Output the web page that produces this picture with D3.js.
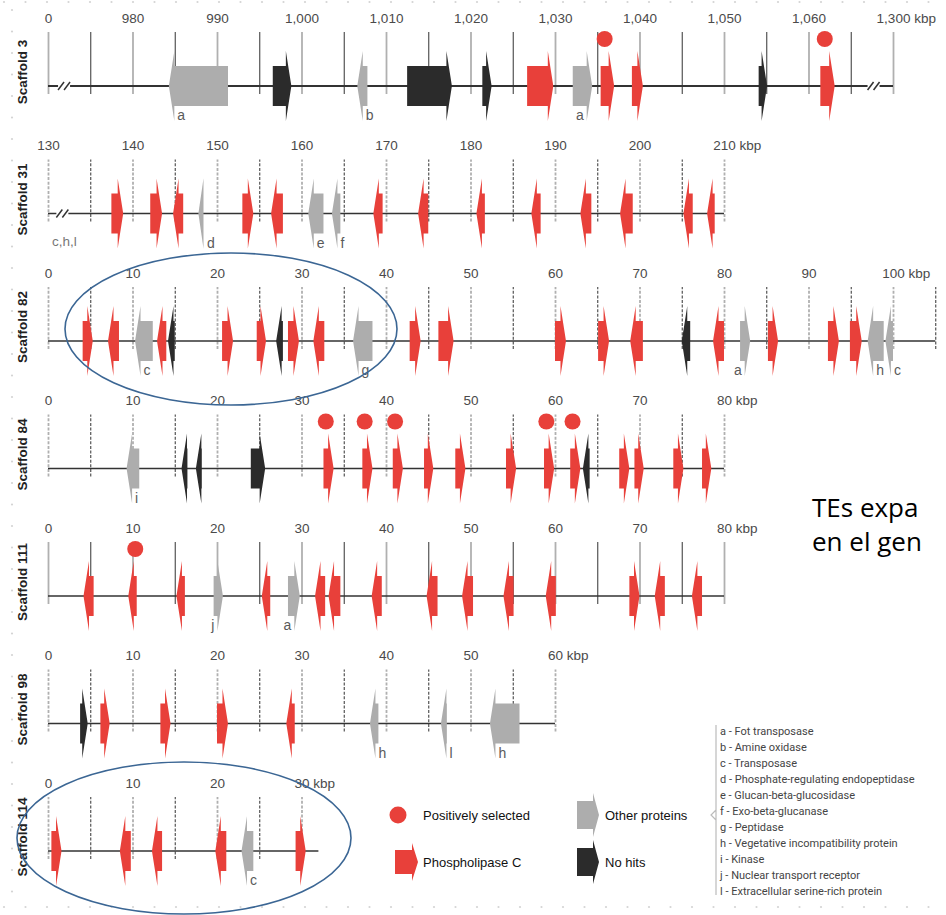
<!DOCTYPE html>
<html>
<head>
<meta charset="utf-8">
<script src="https://cdn.jsdelivr.net/npm/d3@7"></script>
<style>
  body { margin: 0; background: #fff; }
  svg { display: block; font-family: "Liberation Sans", Arial, sans-serif; }
</style>
</head>
<body>
<svg id="chart" width="946" height="915"></svg>
<script>
// scaffolds, top to bottom
const scaffoldNames = ['Scaffold 3', 'Scaffold 31', 'Scaffold 82', 'Scaffold 84', 'Scaffold 111', 'Scaffold 98', 'Scaffold 114'];
const scaffoldStart = [970, 130, 0, 0, 0, 0, 0];
const scaffoldEnd = [1070, 210, 105, 80, 80, 60, 32];
const kbpTick = [1070, 210, 100, 80, 80, 60, 30];       // tick that carries the "kbp" unit
const dashedTicks = [false, true, true, true, false, true, true];
const breakMarks = [[971.9, 1067.7], [131.7], [], [], [], [], []];
const leftNotes = [null, 'c,h,l', null, null, null, null, null];
// scaffold 3 axis is compressed: first and last tick stand for 0 and 1,300 kbp
const scaffold3Labels = ['0', '980', '990', '1,000', '1,010', '1,020', '1,030', '1,040', '1,050', '1,060', '1,300'];

// genes: [start kbp, end kbp, strand, type, letter, positively selected]
// type: plc = phospholipase C, other = other proteins, none = no hits
const genesS3 = [
  [984.3, 991.3, -1, 'other', 'a'],
  [996.6, 998.8, 1, 'none'],
  [1006.6, 1007.8, -1, 'other', 'b'],
  [1012.5, 1017.8, 1, 'none'],
  [1021.4, 1022.5, 1, 'none'],
  [1026.7, 1029.8, 1, 'plc'],
  [1032.1, 1034.4, 1, 'other', 'a'],
  [1035.4, 1037.0, 1, 'plc', '', true],
  [1039.1, 1040.4, 1, 'plc'],
  [1054.1, 1055.1, 1, 'none'],
  [1061.4, 1063.1, 1, 'plc', '', true]
];
const genesS31 = [
  [137.5, 138.9, 1, 'plc'],
  [142.1, 143.5, 1, 'plc'],
  [144.8, 146.0, -1, 'plc'],
  [147.8, 148.4, -1, 'other', 'd'],
  [153.0, 154.3, 1, 'plc'],
  [156.4, 157.8, -1, 'plc'],
  [160.8, 162.6, -1, 'other', 'e'],
  [163.6, 164.6, -1, 'other', 'f'],
  [168.5, 169.6, -1, 'plc'],
  [173.8, 175.0, -1, 'plc'],
  [180.7, 181.7, -1, 'plc'],
  [187.2, 188.3, -1, 'plc'],
  [193.0, 194.3, -1, 'plc'],
  [197.7, 199.2, -1, 'plc'],
  [205.2, 206.3, -1, 'plc'],
  [208.0, 208.9, -1, 'plc']
];
const genesS82 = [
  [4.1, 5.3, 1, 'plc'],
  [7.1, 8.4, -1, 'plc'],
  [10.3, 12.4, -1, 'other', 'c'],
  [12.9, 14.0, -1, 'plc'],
  [14.2, 15.0, -1, 'none'],
  [20.6, 21.9, 1, 'plc'],
  [24.7, 25.8, 1, 'plc'],
  [27.0, 27.8, -1, 'none'],
  [28.4, 29.7, 1, 'plc'],
  [31.4, 32.7, -1, 'plc'],
  [36.1, 38.4, -1, 'other', 'g'],
  [42.8, 44.1, 1, 'plc'],
  [46.2, 48.0, 1, 'plc'],
  [60.0, 61.3, 1, 'plc'],
  [65.1, 66.4, 1, 'plc'],
  [68.9, 70.4, -1, 'plc'],
  [75.0, 76.0, -1, 'none'],
  [78.7, 80.0, -1, 'plc'],
  [81.9, 83.1, 1, 'other', 'a'],
  [85.2, 86.4, 1, 'plc'],
  [92.3, 93.6, 1, 'plc'],
  [94.9, 96.3, 1, 'plc'],
  [97.0, 98.9, -1, 'other', 'h'],
  [99.1, 100.0, -1, 'other', 'c']
];
const genesS84 = [
  [9.3, 10.8, -1, 'other', 'i'],
  [15.8, 16.5, -1, 'none'],
  [17.5, 18.2, -1, 'none'],
  [24.0, 25.7, 1, 'none'],
  [32.6, 33.8, 1, 'plc', '', true],
  [37.2, 38.4, 1, 'plc', '', true],
  [40.8, 42.0, 1, 'plc', '', true],
  [44.5, 45.6, 1, 'plc'],
  [48.2, 49.4, 1, 'plc'],
  [54.2, 55.4, 1, 'plc'],
  [58.7, 59.9, 1, 'plc', '', true],
  [61.8, 63.0, 1, 'plc', '', true],
  [63.3, 64.1, -1, 'none'],
  [67.6, 68.8, 1, 'plc'],
  [69.4, 70.5, 1, 'plc'],
  [74.0, 75.2, 1, 'plc'],
  [77.4, 78.5, 1, 'plc']
];
const genesS111 = [
  [4.2, 5.4, -1, 'plc'],
  [9.5, 10.5, -1, 'plc', '', true],
  [15.2, 16.2, -1, 'plc'],
  [19.6, 20.7, 1, 'other', 'j'],
  [25.3, 26.3, -1, 'plc'],
  [28.4, 29.8, 1, 'other', 'a'],
  [31.6, 32.8, -1, 'plc'],
  [33.2, 34.6, -1, 'plc'],
  [38.3, 39.5, -1, 'plc'],
  [44.8, 46.1, -1, 'plc'],
  [49.0, 50.3, -1, 'plc'],
  [53.9, 55.1, -1, 'plc'],
  [58.9, 60.1, -1, 'plc'],
  [68.8, 70.0, 1, 'plc'],
  [71.8, 73.0, -1, 'plc'],
  [76.2, 77.4, -1, 'plc']
];
const genesS98 = [
  [3.8, 4.7, 1, 'none'],
  [6.2, 7.3, 1, 'plc'],
  [13.3, 14.5, 1, 'plc'],
  [20.0, 21.3, 1, 'plc'],
  [28.2, 29.2, -1, 'plc'],
  [38.1, 39.1, -1, 'other', 'h'],
  [46.5, 47.2, -1, 'other', 'l'],
  [52.3, 55.8, -1, 'other', 'h']
];
const genesS114 = [
  [0.4, 1.6, 1, 'plc'],
  [8.5, 9.8, -1, 'plc'],
  [12.3, 13.5, -1, 'plc'],
  [19.8, 21.1, -1, 'plc'],
  [22.9, 24.3, -1, 'other', 'c'],
  [29.3, 30.5, 1, 'plc']
];
const genesByScaffold = [genesS3, genesS31, genesS82, genesS84, genesS111, genesS98, genesS114];

const proteinKey = [
  'a - Fot transposase',
  'b - Amine oxidase',
  'c - Transposase',
  'd - Phosphate-regulating endopeptidase',
  'e - Glucan-beta-glucosidase',
  'f - Exo-beta-glucanase',
  'g - Peptidase',
  'h - Vegetative incompatibility protein',
  'i - Kinase',
  'j - Nuclear transport receptor',
  'l - Extracellular serine-rich protein'
];

const colors = { plc: '#e8403a', other: '#adadad', none: '#2b2b2b' };

const svg = d3.select('#chart');

// slide dots in the margins
const dots = svg.append('g').attr('fill', '#d4d4d4');
d3.range(4, 946, 21.5).forEach(x => {
  dots.append('circle').attr('cx', x).attr('cy', 2).attr('r', 1.1);
  dots.append('circle').attr('cx', x).attr('cy', 907).attr('r', 1.1);
});
d3.range(10, 900, 21.5).forEach(y => {
  dots.append('circle').attr('cx', 12).attr('cy', y).attr('r', 1.1);
});

// vertical placement of the scaffolds
const rowY = d3.scaleLinear().domain([0, scaffoldNames.length - 1]).range([86, 851]);

// arrow shaped gene: narrow shaft and tall thin head
function genePath(x0, x1, dir, h, H, hl) {
  const head = Math.min(hl, x1 - x0);
  const b = dir > 0 ? x1 - head : x0 + head;
  const tail = dir > 0 ? x0 : x1;
  const tip = dir > 0 ? x1 : x0;
  return `M${tail},${-h}L${b},${-h}L${b},${-H}L${tip},0L${b},${H}L${b},${h}L${tail},${h}Z`;
}

scaffoldNames.forEach((name, i) => {
  const y0 = rowY(i);
  const start = scaffoldStart[i];
  const x = d3.scaleLinear().domain([start, start + 100]).range([48, 893]);
  const g = svg.append('g').attr('transform', `translate(0,${y0})`);

  // rotated scaffold name
  g.append('text')
    .attr('transform', `translate(27,-14) rotate(-90)`)
    .attr('text-anchor', 'middle')
    .attr('font-size', 13.5)
    .attr('font-weight', 'bold')
    .attr('fill', '#222')
    .text(name);

  // ticks every 5 kbp, labels every 10 kbp
  const tickVals = d3.range(start, scaffoldEnd[i] + 0.01, 5);
  const axis = d3.axisTop(x)
    .tickValues(tickVals)
    .tickSize(62)
    .tickPadding(9.5)
    .tickFormat(v => {
      if ((v - start) % 10 !== 0 || v > kbpTick[i]) return '';
      if (i === 0) return scaffold3Labels[(v - start) / 10];
      return d3.format(',')(v);
    });
  const ax = g.append('g').attr('transform', 'translate(0,8)').call(axis);
  ax.select('.domain').remove();
  ax.selectAll('.tick line')
    .attr('stroke', v => (v - start) % 10 === 0 ? '#b0b0b0' : '#444')
    .attr('stroke-width', v => (v - start) % 10 === 0 ? 1.8 : 1.1)
    .attr('stroke-dasharray', dashedTicks[i] ? '3,1.6' : null);
  ax.selectAll('.tick text')
    .attr('font-size', 13.5)
    .attr('font-family', '"Liberation Sans", Arial, sans-serif')
    .attr('fill', '#4a4a4a')
    .each(function(v) {
      if (v !== kbpTick[i]) return;
      const t = d3.select(this);
      const w = this.getComputedTextLength();
      t.attr('text-anchor', 'start').attr('x', -w / 2).text(t.text() + ' kbp');
    });

  // backbone
  g.append('line')
    .attr('x1', x(start)).attr('x2', x(scaffoldEnd[i]))
    .attr('stroke', '#333').attr('stroke-width', i === 0 ? 1.8 : 1.4);

  // break marks
  breakMarks[i].forEach(b => {
    const bx = x(b);
    g.append('rect').attr('x', bx - 6).attr('y', -3).attr('width', 12).attr('height', 6).attr('fill', '#fff');
    [-3, 3].forEach(o => {
      g.append('line')
        .attr('x1', bx + o - 3).attr('y1', 4)
        .attr('x2', bx + o + 3).attr('y2', -4)
        .attr('stroke', '#333').attr('stroke-width', 1.5);
    });
  });

  if (leftNotes[i]) {
    g.append('text').attr('x', 52).attr('y', 32)
      .attr('font-size', 13.5).attr('fill', '#777').text(leftNotes[i]);
  }

  // genes
  const genes = genesByScaffold[i];
  g.selectAll('path.gene')
    .data(genes)
    .enter()
    .append('path')
    .attr('class', 'gene')
    .attr('d', d => genePath(x(d[0]), x(d[1]), d[2], 20, 35, 5.5))
    .attr('fill', d => colors[d[3]]);

  // positively selected marks sit over the shaft
  g.selectAll('circle.sel')
    .data(genes.filter(d => d[5]))
    .enter()
    .append('circle')
    .attr('class', 'sel')
    .attr('cx', d => {
      const x0 = x(d[0]), x1 = x(d[1]);
      return d[2] > 0 ? (x0 + x1 - 5.5) / 2 : (x0 + 5.5 + x1) / 2;
    })
    .attr('cy', -47)
    .attr('r', 8)
    .attr('fill', colors.plc);

  // letter codes next to the lower spike
  g.selectAll('text.code')
    .data(genes.filter(d => d[4]))
    .enter()
    .append('text')
    .attr('class', 'code')
    .attr('x', d => {
      const x0 = x(d[0]), x1 = x(d[1]);
      return d[2] > 0 ? x1 - 5.5 - 3 : x0 + 5.5 + 3;
    })
    .attr('y', 34)
    .attr('text-anchor', d => d[2] > 0 ? 'end' : 'start')
    .attr('font-size', 14)
    .attr('fill', '#5a5a5a')
    .text(d => d[4]);
});

// highlight ellipses
svg.append('ellipse')
  .attr('cx', 231).attr('cy', 329).attr('rx', 166).attr('ry', 76)
  .attr('fill', 'none').attr('stroke', '#3b6694').attr('stroke-width', 1.6);
svg.append('ellipse')
  .attr('cx', 184).attr('cy', 838).attr('rx', 167).attr('ry', 76)
  .attr('fill', 'none').attr('stroke', '#3b6694').attr('stroke-width', 1.6);

// legend
const legend = svg.append('g');
legend.append('circle').attr('cx', 398).attr('cy', 815).attr('r', 8.5).attr('fill', colors.plc);
legend.append('path').attr('transform', 'translate(0,862)')
  .attr('d', genePath(395, 418, 1, 12, 19, 6)).attr('fill', colors.plc);
legend.append('path').attr('transform', 'translate(0,815)')
  .attr('d', genePath(577, 599, 1, 14, 22, 6)).attr('fill', colors.other);
legend.append('path').attr('transform', 'translate(0,862)')
  .attr('d', genePath(577, 599, 1, 14, 22, 6)).attr('fill', colors.none);
[['Positively selected', 423, 820], ['Phospholipase C', 423, 867], ['Other proteins', 605, 820], ['No hits', 605, 867]]
  .forEach(([t, lx, ly]) => {
    legend.append('text').attr('x', lx).attr('y', ly)
      .attr('font-size', 13).attr('fill', '#111').text(t);
  });

// bracket and protein key
legend.append('path')
  .attr('d', 'M716,725V895M716,810L711,815L716,820')
  .attr('fill', 'none').attr('stroke', '#bbb').attr('stroke-width', 1.2);
legend.selectAll('text.key')
  .data(proteinKey)
  .enter()
  .append('text')
  .attr('class', 'key')
  .attr('x', 720)
  .attr('y', (d, j) => 735 + j * 16)
  .attr('font-family', 'Roboto, sans-serif')
  .attr('font-size', 11)
  .attr('fill', '#444')
  .text(d => d);

// slide text overlapping the figure
svg.append('text').attr('x', 812).attr('y', 517)
  .attr('font-family', '"Open Sans", sans-serif').attr('font-size', 26).attr('fill', '#000')
  .text('TEs expa');
svg.append('text').attr('x', 812).attr('y', 551)
  .attr('font-family', '"Open Sans", sans-serif').attr('font-size', 26).attr('fill', '#000')
  .text('en el gen');
</script>
</body>
</html>
